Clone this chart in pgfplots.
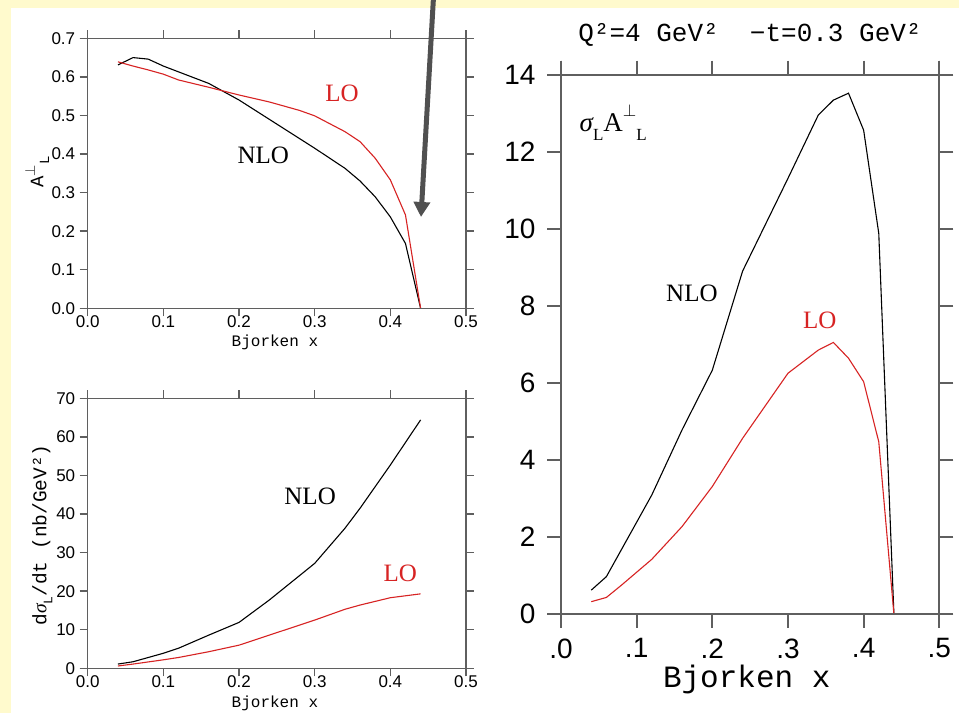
\documentclass[border=0pt]{standalone}
\usepackage{pgfplots}
\pgfplotsset{compat=1.18}
\usepackage{fontspec}
\setmainfont{Liberation Serif}
\newfontfamily\sansf{Liberation Sans}
\newfontfamily\monof{Liberation Mono}
\newfontfamily\seriff{Liberation Serif}
\usetikzlibrary{arrows.meta}
\definecolor{bgyellow}{RGB}{255,250,205}
\definecolor{axgray}{RGB}{95,95,95}
\definecolor{lored}{RGB}{215,35,35}
\definecolor{arrowgray}{RGB}{80,80,80}
\pgfplotsset{
  panel/.style={
    scale only axis,
    xmin=0, xmax=0.5,
    axis line style={axgray, line width=1.4pt},
    every tick/.style={axgray, line width=1.4pt},
    tick align=outside,
    xtick={0,0.1,0.2,0.3,0.4,0.5},
    /pgf/number format/assume math mode=true,
    clip=false,
    every axis plot/.append style={line width=1.1pt},
  },
  small/.style={
    panel,
    width=378.3pt, height=270pt,
    major tick length=8pt,
    xticklabels={0.0,0.1,0.2,0.3,0.4,0.5},
    tick label style={font=\fontsize{17}{17}\selectfont\sansf},
    yticklabel style={xshift=-1pt},
    xticklabel style={yshift=2pt, inner sep=1pt},
    xlabel={Bjorken x},
    xlabel style={at={(axis description cs:0.495,-0.128)}, anchor=center, inner sep=0pt, font=\fontsize{16}{16}\selectfont\monof},
  },
}
\newcommand{\extlines}[1]{%
  \draw[axgray, line width=1.4pt] ([xshift=-#1]rel axis cs:0,1) -- ([xshift=#1]rel axis cs:1,1);
  \draw[axgray, line width=1.4pt] ([xshift=-#1]rel axis cs:0,0) -- ([xshift=#1]rel axis cs:1,0);
  \draw[axgray, line width=1.4pt] ([yshift=#1]rel axis cs:0,1) -- ([yshift=-#1]rel axis cs:0,0);
  \draw[axgray, line width=1.4pt] ([yshift=#1]rel axis cs:1,1) -- ([yshift=-#1]rel axis cs:1,0);
}
\begin{document}
\begin{tikzpicture}
\fill[bgyellow] (0,0) rectangle (959pt,713pt);
\fill[white] (11pt,0) rectangle (959pt,705pt);
\path[use as bounding box] (0,0) rectangle (959pt,713pt);

% ---------- top-left: A_L ----------
\begin{axis}[small,
  at={(87.7pt,404.7pt)}, anchor=south west,
  ymin=0, ymax=0.7,
  ytick={0,0.1,0.2,0.3,0.4,0.5,0.6,0.7},
  yticklabels={0.0,0.1,0.2,0.3,0.4,0.5,0.6,0.7},
  ylabel={{\monof A}\raisebox{0.45em}{\fontsize{14}{14}\selectfont$\perp$}\raisebox{-0.3em}{\fontsize{14}{14}\selectfont\monof L}},
  ylabel style={at={(axis description cs:-0.134,0.505)}, anchor=center, font=\fontsize{19}{19}\selectfont},
]
\addplot[black] coordinates {(0.04,0.631) (0.06,0.650) (0.08,0.646) (0.10,0.628) (0.12,0.613) (0.16,0.583) (0.20,0.540) (0.24,0.490) (0.28,0.440) (0.30,0.415) (0.34,0.363) (0.36,0.330) (0.38,0.289) (0.40,0.237) (0.42,0.168) (0.44,0.0)};
\addplot[lored] coordinates {(0.04,0.639) (0.06,0.628) (0.08,0.618) (0.10,0.607) (0.12,0.592) (0.16,0.573) (0.20,0.553) (0.24,0.535) (0.28,0.513) (0.30,0.499) (0.34,0.458) (0.36,0.432) (0.38,0.389) (0.40,0.333) (0.42,0.242) (0.44,0.0)};
\node[font=\fontsize{25}{25}\selectfont\seriff, text=lored] at (axis cs:0.336,0.558) {LO};
\node[font=\fontsize{25}{25}\selectfont\seriff] at (axis cs:0.232,0.397) {NLO};
\extlines{8pt}
\end{axis}

% ---------- bottom-left: dsigma/dt ----------
\begin{axis}[small,
  at={(87.7pt,44.7pt)}, anchor=south west,
  ymin=0, ymax=70,
  ytick={0,10,20,30,40,50,60,70},
  yticklabels={0,10,20,30,40,50,60,70},
  ylabel={d{\seriff\itshape σ}\raisebox{-0.3em}{\fontsize{13}{13}\selectfont L}/dt (nb/GeV²)},
  ylabel style={at={(axis description cs:-0.12,0.494)}, anchor=center, font=\fontsize{19.5}{19.5}\selectfont\monof},
]
\addplot[black] coordinates {(0.04,1.1) (0.06,1.7) (0.10,3.9) (0.12,5.2) (0.16,8.6) (0.20,11.9) (0.24,17.7) (0.30,27.2) (0.34,36.3) (0.36,41.5) (0.40,52.7) (0.44,64.4)};
\addplot[lored] coordinates {(0.04,0.6) (0.06,1.1) (0.10,2.2) (0.12,2.8) (0.16,4.3) (0.20,6.0) (0.24,8.6) (0.30,12.5) (0.34,15.3) (0.36,16.4) (0.40,18.3) (0.44,19.3)};
\node[font=\fontsize{25}{25}\selectfont\seriff] at (axis cs:0.294,44.5) {NLO};
\node[font=\fontsize{25}{25}\selectfont\seriff, text=lored] at (axis cs:0.413,24.6) {LO};
\extlines{8pt}
\end{axis}

% ---------- right: sigma_L A_L ----------
\begin{axis}[panel,
  at={(561pt,99pt)}, anchor=south west,
  width=378.3pt, height=539.3pt,
  axis line style={axgray, line width=2pt},
  every tick/.style={axgray, line width=2pt},
  major tick length=14pt,
  ymin=0, ymax=14,
  ytick={0,2,4,6,8,10,12,14},
  xticklabels={.0,.1,.2,.3,.4,.5},
  tick label style={font=\fontsize{28}{28}\selectfont\sansf},
  yticklabel style={xshift=-8pt},
  xticklabel style={yshift=-7pt},
  xlabel={Bjorken x},
  xlabel style={at={(axis description cs:0.491,-0.122)}, anchor=center, font=\fontsize{31}{31}\selectfont\monof},
  title={Q²=4\ GeV²\ \ −t=0.3\ GeV²},
  title style={at={(axis description cs:0.4996,1.063)}, anchor=center, font=\fontsize{26}{26}\selectfont\monof},
]
\addplot[black] coordinates {(0.04,0.62) (0.06,0.97) (0.12,3.09) (0.16,4.78) (0.20,6.33) (0.24,8.9) (0.30,11.31) (0.34,12.95) (0.36,13.34) (0.38,13.52) (0.40,12.56) (0.42,9.88) (0.44,0)};
\addplot[lored] coordinates {(0.04,0.32) (0.06,0.43) (0.08,0.75) (0.12,1.42) (0.16,2.27) (0.20,3.31) (0.24,4.56) (0.30,6.25) (0.34,6.85) (0.36,7.05) (0.38,6.64) (0.40,6.03) (0.42,4.47) (0.44,0)};
\node[font=\fontsize{25}{25}\selectfont\seriff] at (axis cs:0.173,8.33) {NLO};
\node[font=\fontsize{25}{25}\selectfont\seriff, text=lored] at (axis cs:0.342,7.63) {LO};
\node[font=\fontsize{27}{27}\selectfont\seriff] at (axis cs:0.069,12.75) {{\itshape σ}\raisebox{-0.35em}{\fontsize{17}{17}\selectfont L}A\raisebox{0.55em}{\fontsize{17}{17}\selectfont$\perp$}\raisebox{-0.35em}{\fontsize{17}{17}\selectfont L}};
\extlines{14pt}
\end{axis}

\draw[arrowgray, line width=5pt, -{Triangle[length=15pt,width=16pt]}] (433.5pt,716pt) -- (421pt,496pt);
\end{tikzpicture}
\end{document}
